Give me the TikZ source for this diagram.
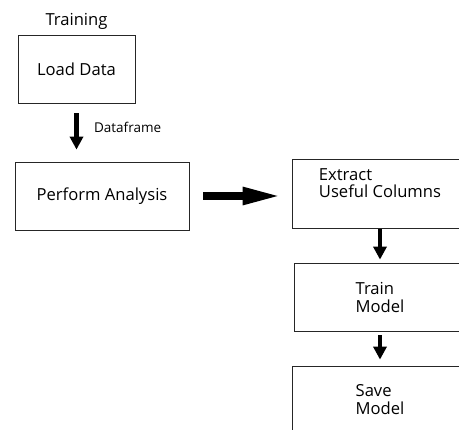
\documentclass[tikz,border=0pt]{standalone}
\usepackage{fontspec}
\setmainfont{Open Sans}
\usetikzlibrary{arrows.meta, positioning}

\begin{document}
\begin{tikzpicture}[x=1pt, y=-1pt,
  box/.style={draw=black!85, line width=0.8pt, rectangle, align=left, font=\fontsize{16.6}{18}\selectfont},
  flow/.style={line width=4.5pt, -{Triangle[width=13pt,length=13pt]}},
  bigflow/.style={line width=8pt, -{Triangle[width=16pt,length=40pt]}}]
\path[use as bounding box, clip] (0,0) rectangle (459,430);

% Training side
\node[box, minimum width=117pt, minimum height=68pt] (load) at (76.5,69) {Load Data};
\node[above=2pt of load, font=\fontsize{16.6}{18}\selectfont] (title) {Training};
\node[box, minimum width=174pt, minimum height=68pt] (analysis) at (102,196) {Perform Analysis};

% Model side
\node[box, minimum width=176pt, minimum height=69pt,
      label={[align=left, font=\fontsize{16.6}{17}\selectfont, yshift=10pt]center:Extract\\Useful Columns}] (extract) at (380,193.5) {};
\node[box, minimum width=172pt, minimum height=68pt] (train) at (380,297) {Train\\Model};
\node[box, minimum width=176pt, minimum height=68pt] (save) at (380,400) {Save\\Model};

% Arrows
\draw[flow, shorten <=10pt, shorten >=12pt] (load.south) -- (load |- analysis.north)
   node[pos=0.41, right=12pt, font=\fontsize{13.5}{15}\selectfont] (dfl) {Dataframe};
\draw[bigflow, shorten <=14pt, shorten >=9pt] (analysis.east) -- (analysis.east -| extract.west);
\draw[flow, shorten <=1pt, shorten >=3pt] (extract.south) -- (train.north);
\draw[flow, shorten <=4pt, shorten >=6pt] (train.south) -- (save.north);
\end{tikzpicture}
\end{document}
